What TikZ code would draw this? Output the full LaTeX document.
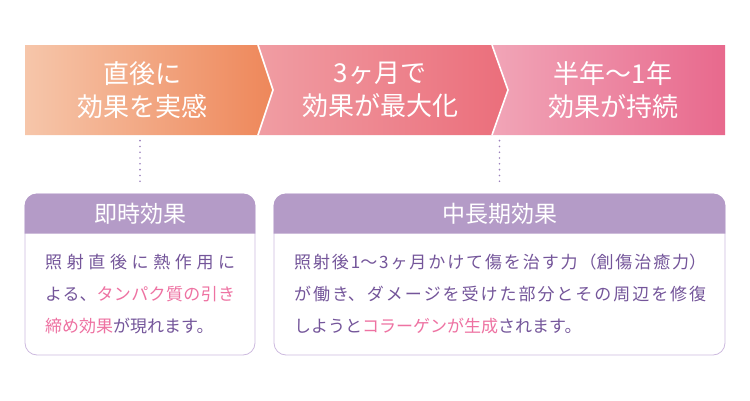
\documentclass[tikz,border=0pt]{standalone}
\usepackage{fontspec}
\setmainfont{Noto Sans CJK JP}
\XeTeXlinebreaklocale "ja"
\XeTeXlinebreakskip=0pt plus 4pt
\definecolor{peachL}{HTML}{F6C6AA}
\definecolor{peachR}{HTML}{EE875A}
\definecolor{roseL}{HTML}{F09DA3}
\definecolor{roseR}{HTML}{EB6E7B}
\definecolor{pinkL}{HTML}{F1A5B7}
\definecolor{pinkR}{HTML}{E8698D}
\definecolor{headfill}{HTML}{B49BC7}
\definecolor{panelline}{HTML}{CDBADF}
\definecolor{bodyink}{HTML}{74559A}
\definecolor{hilite}{HTML}{EE72A2}
\definecolor{dotink}{HTML}{9C82BD}
\begin{document}
\begin{tikzpicture}[x=1pt, y=-1pt,
  steptext/.style={text=white, align=center, font=\fontsize{26}{33}\selectfont},
  panel/.style={draw=panelline, fill=white, rounded corners=12pt, line width=0.8pt},
  headtext/.style={text=white, font=\fontsize{23}{28}\selectfont},
  bodytext/.style={text=bodyink, align=justify, anchor=north west, inner sep=0pt, font=\fontsize{17}{32}\selectfont},
  dotline/.style={draw=dotink, line width=1.8pt, line cap=round, dash pattern=on 0pt off 5.8pt}]
  \useasboundingbox (0,0) rectangle (750,400);

  % three steps
  \shade[left color=peachL, right color=peachR] (25,45) -- (258,45) -- (273,90) -- (258,135) -- (25,135) -- cycle;
  \shade[left color=roseL, right color=roseR] (258,45) -- (492,45) -- (508,90) -- (492,135) -- (258,135) -- (273,90) -- cycle;
  \shade[left color=pinkL, right color=pinkR] (492,45) -- (725,45) -- (725,135) -- (492,135) -- (508,90) -- cycle;
  \draw[white, line width=1.6pt] (258,45) -- (273,90) -- (258,135);
  \draw[white, line width=1.6pt] (492,45) -- (508,90) -- (492,135);

  \node[steptext] (soon) at (142,90) {直後に\\効果を実感};
  \node[steptext] (peak) at (380,90) {3ヶ月で\\効果が最大化};
  \node[steptext] (last) at (613,90) {半年〜1年\\効果が持続};

  % panels
  \node[panel, minimum width=230pt, minimum height=161pt] (quick) at (140,274.5) {};
  \node[panel, minimum width=451pt, minimum height=161pt] (longterm) at (499.5,274.5) {};
  \fill[headfill] ([yshift=-40pt]quick.north west) {[rounded corners=12pt] -- (quick.north west) -- (quick.north east)} -- ([yshift=-40pt]quick.north east) -- cycle;
  \fill[headfill] ([yshift=-40pt]longterm.north west) {[rounded corners=12pt] -- (longterm.north west) -- (longterm.north east)} -- ([yshift=-40pt]longterm.north east) -- cycle;

  \node[headtext] (quickhead) at ([yshift=-20pt]quick.north) {即時効果};
  \node[headtext] (longhead) at ([yshift=-20pt]longterm.north) {中長期効果};

  \node[bodytext, text width=190pt] (quickbody) at (45,254) {照射直後に熱作用に\linebreak よる、{\color{hilite}タンパク質の引き\linebreak 締め効果}が現れます。};
  \node[bodytext, text width=412pt] (longbody) at (294,254) {照射後1〜3ヶ月かけて傷を治す力（創傷治癒力）\linebreak が働き、ダメージを受けた部分とその周辺を修復\linebreak しようと{\color{hilite}コラーゲンが生成}されます。};

  \draw[dotline] ([yshift=53pt]quick.north) -- ([yshift=7pt]quick.north);
  \draw[dotline] ([yshift=53pt]longterm.north) -- ([yshift=7pt]longterm.north);
\end{tikzpicture}
\end{document}
